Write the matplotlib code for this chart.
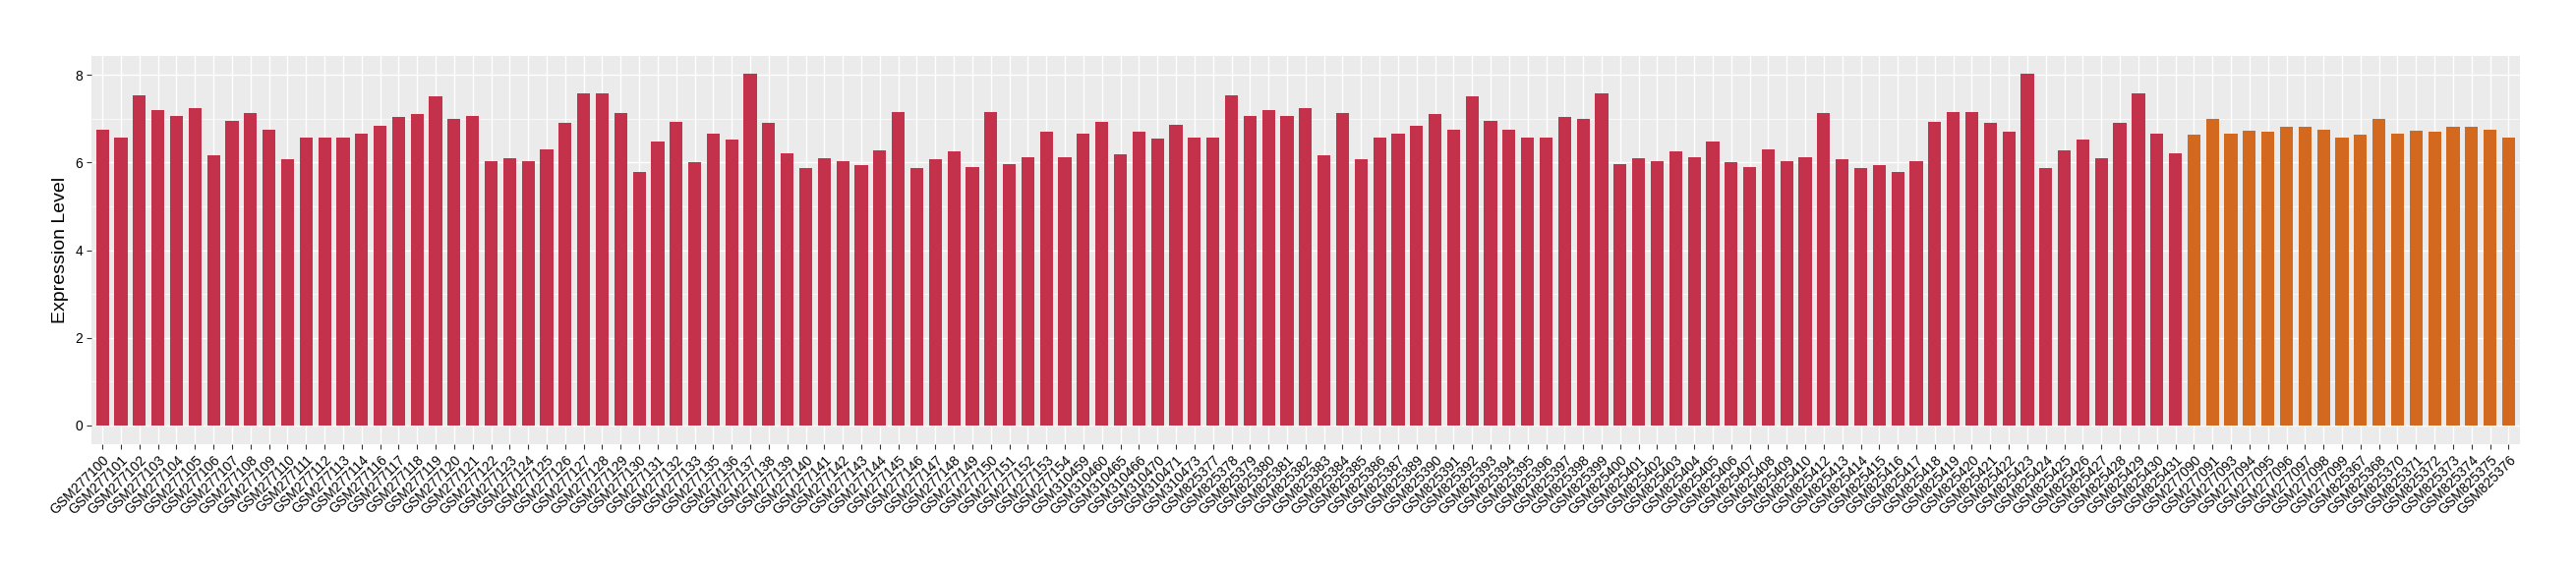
import matplotlib
matplotlib.use("Agg")
import matplotlib.pyplot as plt
import numpy as np

# group 1 (red)
tumor_samples = [
    "GSM277100", "GSM277101", "GSM277102", "GSM277103", "GSM277104", "GSM277105",
    "GSM277106", "GSM277107", "GSM277108", "GSM277109", "GSM277110", "GSM277111",
    "GSM277112", "GSM277113", "GSM277114", "GSM277116", "GSM277117", "GSM277118",
    "GSM277119", "GSM277120", "GSM277121", "GSM277122", "GSM277123", "GSM277124",
    "GSM277125", "GSM277126", "GSM277127", "GSM277128", "GSM277129", "GSM277130",
    "GSM277131", "GSM277132", "GSM277133", "GSM277135", "GSM277136", "GSM277137",
    "GSM277138", "GSM277139", "GSM277140", "GSM277141", "GSM277142", "GSM277143",
    "GSM277144", "GSM277145", "GSM277146", "GSM277147", "GSM277148", "GSM277149",
    "GSM277150", "GSM277151", "GSM277152", "GSM277153", "GSM277154",
    "GSM310459", "GSM310460", "GSM310465", "GSM310466", "GSM310470", "GSM310471",
    "GSM310473",
    "GSM825377", "GSM825378", "GSM825379", "GSM825380", "GSM825381", "GSM825382",
    "GSM825383", "GSM825384", "GSM825385", "GSM825386", "GSM825387", "GSM825389",
    "GSM825390", "GSM825391", "GSM825392", "GSM825393", "GSM825394", "GSM825395",
    "GSM825396", "GSM825397", "GSM825398", "GSM825399", "GSM825400", "GSM825401",
    "GSM825402", "GSM825403", "GSM825404", "GSM825405", "GSM825406", "GSM825407",
    "GSM825408", "GSM825409", "GSM825410", "GSM825412", "GSM825413", "GSM825414",
    "GSM825415", "GSM825416", "GSM825417", "GSM825418", "GSM825419", "GSM825420",
    "GSM825421", "GSM825422", "GSM825423", "GSM825424", "GSM825425", "GSM825426",
    "GSM825427", "GSM825428", "GSM825429", "GSM825430", "GSM825431",
]
tumor_values = [
    6.74, 6.56, 7.53, 7.19, 7.06, 7.24, 6.16, 6.94, 7.12, 6.74, 6.07, 6.58,
    6.56, 6.56, 6.67, 6.83, 7.03, 7.10, 7.51, 6.99, 7.06, 6.04, 6.09, 6.02,
    6.31, 6.90, 7.57, 7.57, 7.12, 5.78, 6.49, 6.92, 6.00, 6.65, 6.52, 8.02,
    6.90, 6.22, 5.87, 6.09, 6.02, 5.93, 6.27, 7.15, 5.87, 6.07, 6.25, 5.89,
    7.15, 5.96, 6.13, 6.70, 6.13,
    6.67, 6.92, 6.18, 6.70, 6.54, 6.85, 6.56,
    6.56, 7.53, 7.06, 7.19, 7.06, 7.24, 6.16, 7.12, 6.07, 6.58, 6.67, 6.83,
    7.10, 6.74, 7.51, 6.94, 6.74, 6.56, 6.56, 7.03, 6.99, 7.57, 5.96, 6.09,
    6.02, 6.25, 6.13, 6.49, 6.00, 5.89, 6.31, 6.02, 6.13, 7.12, 6.07, 5.87,
    5.93, 5.78, 6.04, 6.92, 7.15, 7.15, 6.90, 6.70, 8.02, 5.87, 6.27, 6.52,
    6.09, 6.90, 7.57, 6.65, 6.22,
]

# group 2 (orange)
normal_samples = [
    "GSM277090", "GSM277091", "GSM277093", "GSM277094", "GSM277095", "GSM277096",
    "GSM277097", "GSM277098", "GSM277099",
    "GSM825367", "GSM825368", "GSM825370", "GSM825371", "GSM825372", "GSM825373",
    "GSM825374", "GSM825375", "GSM825376",
]
normal_values = [
    6.63, 6.99, 6.65, 6.72, 6.70, 6.81, 6.81, 6.74, 6.58,
    6.63, 6.99, 6.65, 6.72, 6.70, 6.81, 6.81, 6.74, 6.58,
]

RED = "#C3314A"
ORANGE = "#D2691E"

plt.rcParams["font.family"] = ["Liberation Sans", "DejaVu Sans"]

samples = tumor_samples + normal_samples
values = tumor_values + normal_values
colors = [RED] * len(tumor_samples) + [ORANGE] * len(normal_samples)
x = np.arange(len(samples))

fig = plt.figure(figsize=(26.2, 5.8), dpi=100)
ax = fig.add_axes([0.03546, 0.2207, 0.97813 - 0.03546, 0.9024 - 0.2207])
ax.set_facecolor("#EBEBEB")
for s in ax.spines.values():
    s.set_visible(False)

ax.bar(x, values, width=0.7, color=colors, zorder=3)

ax.set_xlim(-0.6, len(samples) - 1 + 0.6)
ax.set_ylim(-0.43, 8.44)
ax.set_yticks([0, 2, 4, 6, 8])
ax.set_yticks([1, 3, 5, 7], minor=True)
ax.set_xticks(x)
ax.set_xticklabels(samples, rotation=45, ha="right", rotation_mode="anchor",
                   fontsize=10, color="black")
ax.tick_params(axis="y", labelsize=10, labelcolor="black", color="#333333",
               length=3.5, width=0.8, pad=3)
ax.tick_params(axis="y", which="minor", length=0)
ax.tick_params(axis="x", color="#333333", length=3.5, width=0.8, pad=3)

ax.grid(which="major", color="white", linewidth=0.95, zorder=0)
ax.grid(which="minor", axis="y", color="white", linewidth=0.5, zorder=0)
ax.set_axisbelow(True)

ax.set_ylabel("Expression Level", fontsize=14, labelpad=4)

fig.savefig("out.png", dpi=100)
